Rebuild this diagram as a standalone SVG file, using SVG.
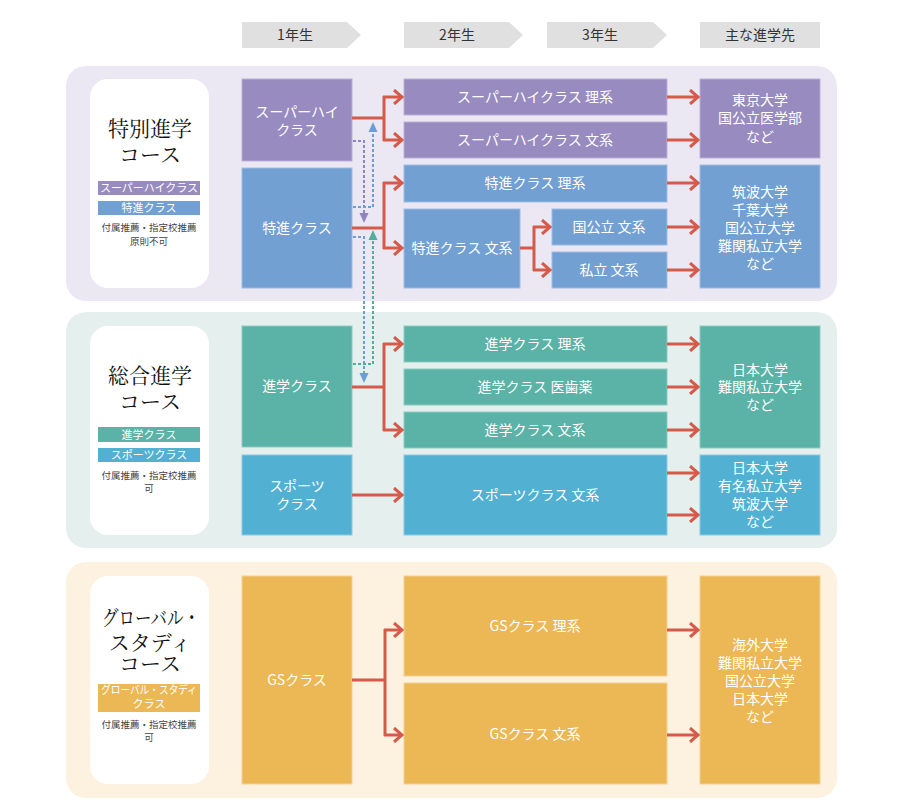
<svg xmlns="http://www.w3.org/2000/svg" width="906" height="808" viewBox="0 0 906 808">
<defs>
<style>
.t{font-family:"Noto Sans CJK JP","Noto Sans",sans-serif;fill:#fff;font-size:14px;text-anchor:middle}
.h{font-family:"Noto Sans CJK JP","Noto Sans",sans-serif;fill:#333;font-size:14px;text-anchor:middle}
.ti{font-family:"Noto Serif CJK JP","Liberation Serif","Noto Sans CJK JP",serif;fill:#111;font-size:21px;text-anchor:middle}
.b{font-family:"Noto Sans CJK JP","Noto Sans",sans-serif;fill:#fff;font-size:11px;text-anchor:middle}
.n{font-family:"Noto Sans CJK JP","Noto Sans",sans-serif;fill:#444;font-size:9.5px;text-anchor:middle}
.hd{fill:#e0e0e0}
.pu{fill:#978bbf;stroke:#b9b1d8;stroke-width:1}
.bl{fill:#72a0d2;stroke:#9dbde3;stroke-width:1}
.gr{fill:#5bb2a6;stroke:#8ccbc2;stroke-width:1}
.cy{fill:#52b1d3;stroke:#86cae3;stroke-width:1}
.or{fill:#ecb755;stroke:#f4d18f;stroke-width:1}
.red{fill:none;stroke:#d65a4a;stroke-width:3;marker-end:url(#ar)}
.redl{fill:none;stroke:#d65a4a;stroke-width:3}
.dp{fill:none;stroke:#8f86c0;stroke-width:2;stroke-dasharray:3 2}
.db{fill:none;stroke:#6b9ed8;stroke-width:2;stroke-dasharray:3 2}
.dg{fill:none;stroke:#4fae9c;stroke-width:2;stroke-dasharray:3 2}
</style>
<marker id="ar" viewBox="0 0 12 16" refX="10" refY="8" markerWidth="12" markerHeight="16" markerUnits="userSpaceOnUse" orient="auto">
<path d="M2,1 L10,8 L2,15" fill="none" stroke="#d65a4a" stroke-width="3"/>
</marker>
</defs>
<rect width="906" height="808" fill="#fff"/>

<g id="headers">
<polygon class="hd" points="242,22 347,22 361,35 347,48 242,48"/>
<text class="h" x="295" y="40">1年生</text>
<polygon class="hd" points="404,22 509,22 523,35 509,48 404,48"/>
<text class="h" x="457" y="40">2年生</text>
<polygon class="hd" points="547,22 653,22 667,35 653,48 547,48"/>
<text class="h" x="600" y="40">3年生</text>
<rect class="hd" x="700" y="22" width="120" height="26"/>
<text class="h" x="760" y="40">主な進学先</text>
</g>

<g id="panel-tokubetsu">
<rect x="66" y="66" width="771" height="235" rx="20" fill="#ebe8f3"/>
<rect x="90" y="79" width="119" height="209" rx="18" fill="#fff"/>
<text class="ti" x="150" y="136">特別進学</text>
<text class="ti" x="150" y="162">コース</text>
<rect x="98" y="181" width="102" height="14" fill="#978bbf"/>
<text class="b" x="149" y="192">スーパーハイクラス</text>
<rect x="98" y="201" width="102" height="14" fill="#72a0d2"/>
<text class="b" x="149" y="212">特進クラス</text>
<text class="n" x="149" y="231">付属推薦・指定校推薦</text>
<text class="n" x="149" y="245">原則不可</text>
</g>

<g id="panel-sogo">
<rect x="66" y="312" width="771" height="236" rx="20" fill="#e5f0ee"/>
<rect x="90" y="326" width="119" height="209" rx="18" fill="#fff"/>
<text class="ti" x="150" y="383">総合進学</text>
<text class="ti" x="150" y="409">コース</text>
<rect x="98" y="427" width="102" height="15" fill="#5bb2a6"/>
<text class="b" x="149" y="438.5">進学クラス</text>
<rect x="98" y="448" width="102" height="14" fill="#52b1d3"/>
<text class="b" x="149" y="459">スポーツクラス</text>
<text class="n" x="149" y="479">付属推薦・指定校推薦</text>
<text class="n" x="149" y="492">可</text>
</g>

<g id="panel-global">
<rect x="66" y="562" width="771" height="236" rx="20" fill="#fdf1e0"/>
<rect x="90" y="576" width="119" height="208" rx="18" fill="#fff"/>
<text class="ti" x="151" y="625" textLength="98" lengthAdjust="spacingAndGlyphs">グローバル・</text>
<text class="ti" x="150" y="650">スタディ</text>
<text class="ti" x="150" y="671">コース</text>
<rect x="98" y="684" width="102" height="28" fill="#ecb755"/>
<text class="b" x="149" y="694" textLength="96" lengthAdjust="spacingAndGlyphs">グローバル・スタディ</text>
<text class="b" x="149" y="708">クラス</text>
<text class="n" x="149" y="728">付属推薦・指定校推薦</text>
<text class="n" x="149" y="741">可</text>
</g>

<g id="node-superhigh">
<rect class="pu" x="242" y="79" width="110" height="82"/>
<text class="t" x="297" y="117">スーパーハイ</text>
<text class="t" x="297" y="135">クラス</text>
</g>
<g id="node-tokushin">
<rect class="bl" x="242" y="168" width="110" height="120"/>
<text class="t" x="297" y="233">特進クラス</text>
</g>
<g id="node-shingaku">
<rect class="gr" x="242" y="326" width="110" height="121"/>
<text class="t" x="297" y="391">進学クラス</text>
</g>
<g id="node-sports">
<rect class="cy" x="242" y="455" width="110" height="80"/>
<text class="t" x="297" y="491">スポーツ</text>
<text class="t" x="297" y="509">クラス</text>
</g>
<g id="node-gs">
<rect class="or" x="242" y="576" width="110" height="208"/>
<text class="t" x="297" y="685">GSクラス</text>
</g>

<g id="node-sh-ri">
<rect class="pu" x="404" y="79" width="263" height="36"/>
<text class="t" x="535" y="102">スーパーハイクラス 理系</text>
</g>
<g id="node-sh-bun">
<rect class="pu" x="404" y="122" width="263" height="36"/>
<text class="t" x="535" y="145">スーパーハイクラス 文系</text>
</g>
<g id="node-tk-ri">
<rect class="bl" x="404" y="165" width="263" height="37"/>
<text class="t" x="535" y="188">特進クラス 理系</text>
</g>
<g id="node-tk-bun">
<rect class="bl" x="404" y="209" width="116" height="79"/>
<text class="t" x="462" y="253">特進クラス 文系</text>
</g>
<g id="node-kokkouritsu">
<rect class="bl" x="552" y="209" width="115" height="36"/>
<text class="t" x="609" y="232">国公立 文系</text>
</g>
<g id="node-shiritsu">
<rect class="bl" x="552" y="252" width="115" height="36"/>
<text class="t" x="609" y="275">私立 文系</text>
</g>
<g id="node-sg-ri">
<rect class="gr" x="404" y="326" width="263" height="36"/>
<text class="t" x="535" y="349">進学クラス 理系</text>
</g>
<g id="node-sg-iyaku">
<rect class="gr" x="404" y="369" width="263" height="36"/>
<text class="t" x="535" y="392">進学クラス 医歯薬</text>
</g>
<g id="node-sg-bun">
<rect class="gr" x="404" y="412" width="263" height="36"/>
<text class="t" x="535" y="435">進学クラス 文系</text>
</g>
<g id="node-sp-bun">
<rect class="cy" x="404" y="455" width="263" height="80"/>
<text class="t" x="535" y="500">スポーツクラス 文系</text>
</g>
<g id="node-gs-ri">
<rect class="or" x="404" y="576" width="263" height="100"/>
<text class="t" x="535" y="631">GSクラス 理系</text>
</g>
<g id="node-gs-bun">
<rect class="or" x="404" y="683" width="263" height="101"/>
<text class="t" x="535" y="739">GSクラス 文系</text>
</g>

<g id="dest-purple">
<rect class="pu" x="700" y="79" width="120" height="79"/>
<text class="t" x="760" y="105">東京大学</text>
<text class="t" x="760" y="123">国公立医学部</text>
<text class="t" x="760" y="142">など</text>
</g>
<g id="dest-blue">
<rect class="bl" x="700" y="165" width="120" height="123"/>
<text class="t" x="760" y="197">筑波大学</text>
<text class="t" x="760" y="215">千葉大学</text>
<text class="t" x="760" y="233">国公立大学</text>
<text class="t" x="760" y="251">難関私立大学</text>
<text class="t" x="760" y="269">など</text>
</g>
<g id="dest-green">
<rect class="gr" x="700" y="326" width="120" height="122"/>
<text class="t" x="760" y="375">日本大学</text>
<text class="t" x="760" y="392">難関私立大学</text>
<text class="t" x="760" y="410">など</text>
</g>
<g id="dest-cyan">
<rect class="cy" x="700" y="455" width="120" height="80"/>
<text class="t" x="760" y="473">日本大学</text>
<text class="t" x="760" y="491">有名私立大学</text>
<text class="t" x="760" y="509">筑波大学</text>
<text class="t" x="760" y="527">など</text>
</g>
<g id="dest-orange">
<rect class="or" x="700" y="576" width="120" height="208"/>
<text class="t" x="760" y="650">海外大学</text>
<text class="t" x="760" y="668">難関私立大学</text>
<text class="t" x="760" y="686">国公立大学</text>
<text class="t" x="760" y="704">日本大学</text>
<text class="t" x="760" y="722">など</text>
</g>

<g id="connectors">
<path class="redl" d="M352,118 H384 M384,96 V141 M352,228 H384 M384,182 V249 M520,248 H534 M534,226 V271 M352,387 H384 M384,343 V431 M352,680 H385 M385,629 V736"/>
<path class="red" d="M383,97 H402"/>
<path class="red" d="M383,140 H402"/>
<path class="red" d="M383,183 H402"/>
<path class="red" d="M383,248 H402"/>
<path class="red" d="M533,227 H550"/>
<path class="red" d="M533,270 H550"/>
<path class="red" d="M383,344 H402"/>
<path class="red" d="M383,430 H402"/>
<path class="red" d="M352,495 H402"/>
<path class="red" d="M384,630 H402"/>
<path class="red" d="M384,735 H402"/>
<path class="red" d="M667,97 H698"/>
<path class="red" d="M667,140 H698"/>
<path class="red" d="M667,183 H698"/>
<path class="red" d="M667,227 H698"/>
<path class="red" d="M667,270 H698"/>
<path class="red" d="M667,344 H698"/>
<path class="red" d="M667,387 H698"/>
<path class="red" d="M667,430 H698"/>
<path class="red" d="M667,473 H698"/>
<path class="red" d="M667,515 H698"/>
<path class="red" d="M667,630 H698"/>
<path class="red" d="M667,735 H698"/>
<path class="dp" d="M353,141 H364 V214"/>
<polygon points="359.5,213 368.5,213 364,223" fill="#8f86c0"/>
<path class="db" d="M353,207 H373 V131"/>
<polygon points="368.5,132 377.5,132 373,122" fill="#6b9ed8"/>
<path class="db" d="M353,237 H364 V374"/>
<polygon points="359.5,373 368.5,373 364,383" fill="#6b9ed8"/>
<path class="dg" d="M353,364 H373 V239"/>
<polygon points="368.5,240 377.5,240 373,230" fill="#4fae9c"/>
</g>
</svg>
